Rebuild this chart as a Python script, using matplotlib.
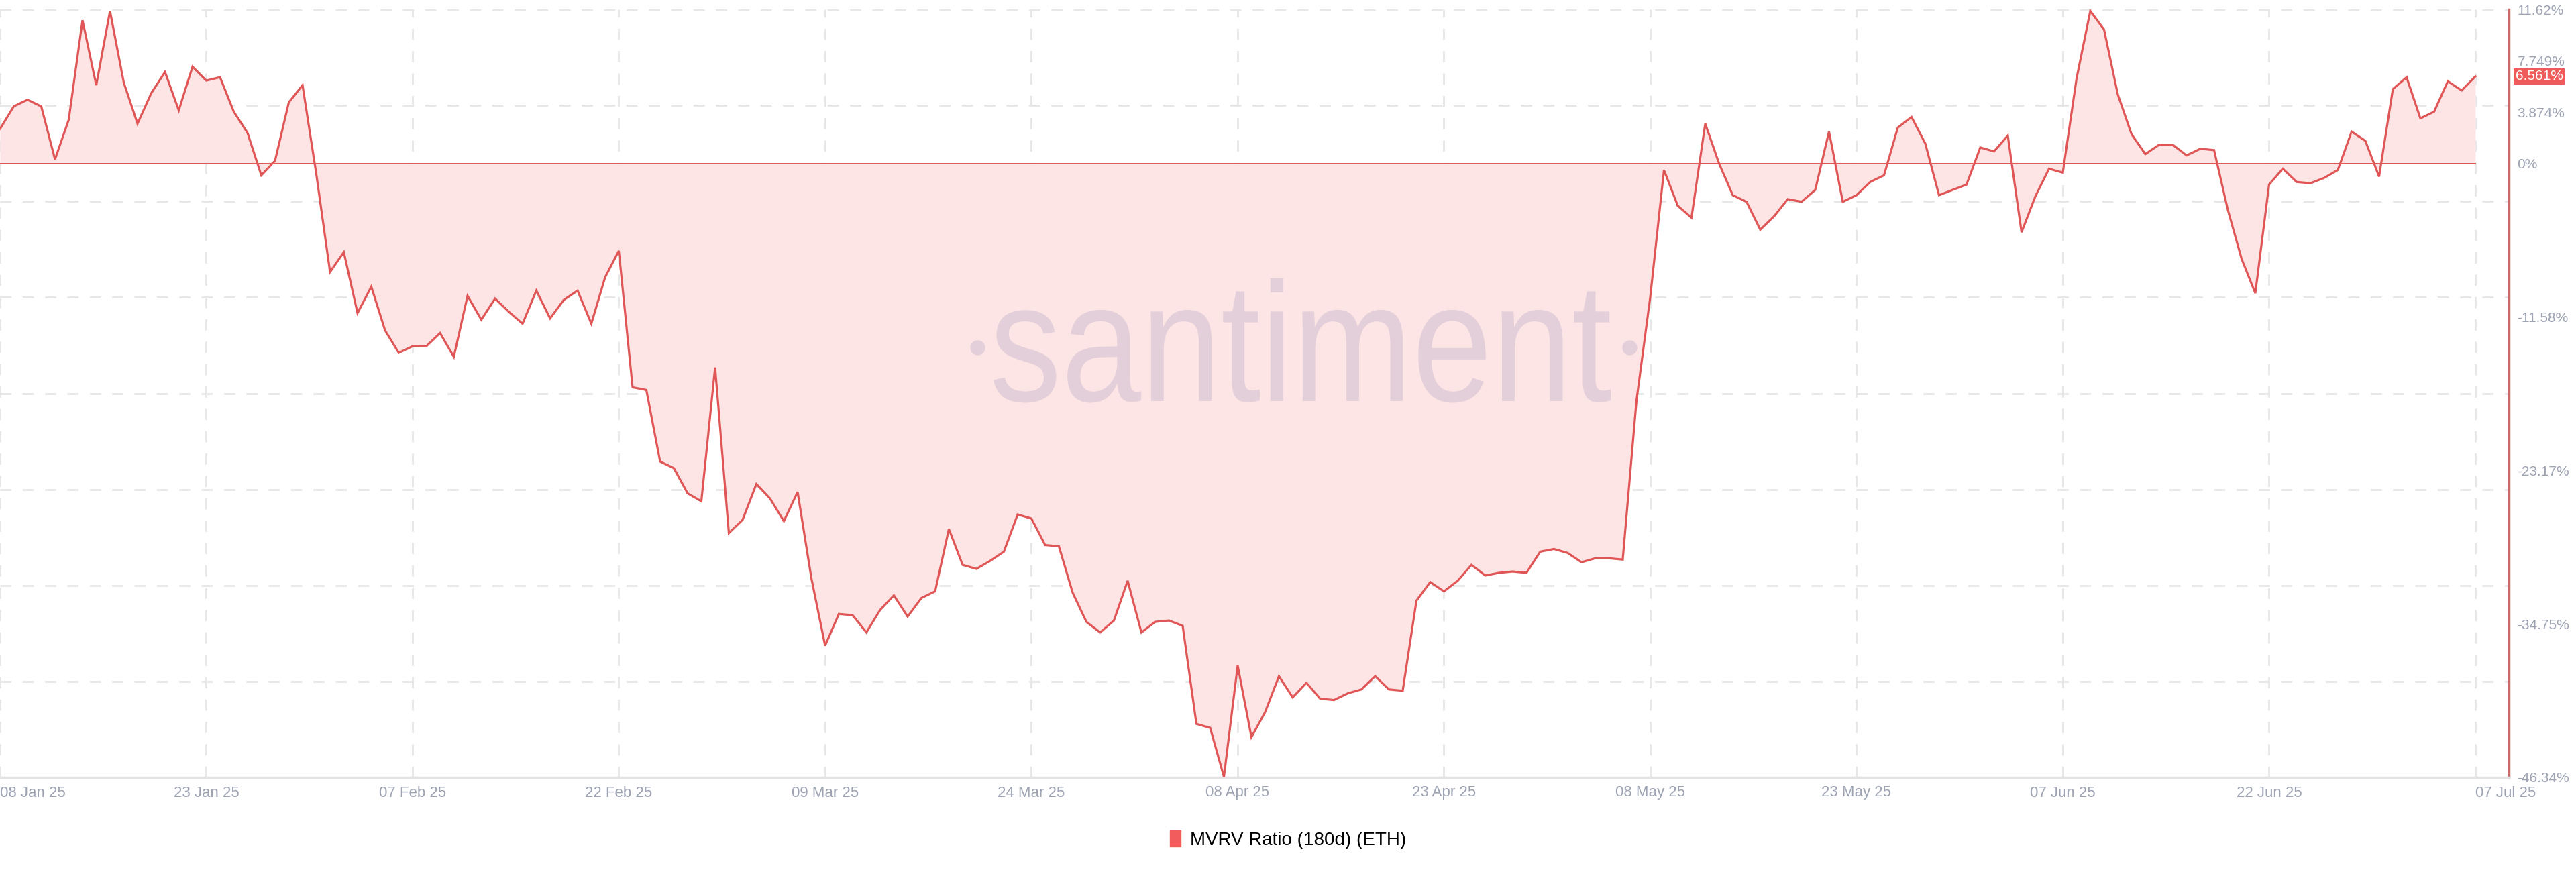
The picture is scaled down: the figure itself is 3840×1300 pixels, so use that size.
import pandas as pd
import matplotlib.pyplot as plt
from matplotlib.patches import Patch, PathPatch
from matplotlib.textpath import TextPath
from matplotlib.font_manager import FontProperties
from matplotlib.transforms import Affine2D

# MVRV Ratio (180d) for ETH, daily values in percent, 08 Jan 25 .. 07 Jul 25
start_date = '2025-01-08'
mvrv = [
    2.6, 4.3, 4.8, 4.3, 0.3, 3.3, 10.8, 5.9, 11.5, 6.1,
    3.0, 5.3, 6.9, 4.0, 7.3, 6.25, 6.5, 3.9, 2.3, -0.9,
    0.2, 4.6, 5.9, -0.8, -8.2, -6.7, -11.3, -9.3, -12.6, -14.3,
    -13.8, -13.8, -12.8, -14.6, -10.0, -11.8, -10.2, -11.2, -12.1, -9.6,
    -11.7, -10.3, -9.6, -12.1, -8.6, -6.6, -16.9, -17.1, -22.5, -23.0,
    -24.9, -25.5, -15.4, -27.9, -26.9, -24.2, -25.3, -27.0, -24.8, -31.3,
    -36.4, -34.0, -34.1, -35.4, -33.7, -32.6, -34.2, -32.8, -32.3, -27.6,
    -30.3, -30.6, -30.0, -29.3, -26.5, -26.8, -28.8, -28.9, -32.4, -34.6,
    -35.4, -34.5, -31.5, -35.4, -34.6, -34.5, -34.9, -42.3, -42.6, -46.3,
    -37.9, -43.3, -41.4, -38.7, -40.3, -39.2, -40.4, -40.5, -40.0, -39.7,
    -38.7, -39.7, -39.8, -33.0, -31.6, -32.3, -31.5, -30.3, -31.1, -30.9,
    -30.8, -30.9, -29.3, -29.1, -29.4, -30.1, -29.8, -29.8, -29.9, -17.9,
    -10.1, -0.5, -3.2, -4.1, 3.0, 0.0, -2.4, -2.9, -5.0, -4.0,
    -2.7, -2.9, -2.0, 2.4, -2.9, -2.4, -1.4, -0.9, 2.7, 3.5,
    1.5, -2.4, -2.0, -1.6, 1.2, 0.9, 2.1, -5.2, -2.5, -0.4,
    -0.7, 6.4, 11.5, 10.1, 5.2, 2.2, 0.7, 1.4, 1.4, 0.6,
    1.1, 1.0, -3.5, -7.2, -9.8, -1.6, -0.4, -1.4, -1.5, -1.1,
    -0.5, 2.4, 1.7, -1.0, 5.6, 6.5, 3.4, 3.9, 6.2, 5.5,
    6.561,
]

y_ticks = [11.62, 7.749, 3.874, 0, -11.58, -23.17, -34.75, -46.34]
y_tick_labels = ['11.62%', '7.749%', '3.874%', '0%', '-11.58%', '-23.17%', '-34.75%', '-46.34%']
x_tick_labels = ['08 Jan 25', '23 Jan 25', '07 Feb 25', '22 Feb 25', '09 Mar 25', '24 Mar 25',
                 '08 Apr 25', '23 Apr 25', '08 May 25', '23 May 25', '07 Jun 25', '22 Jun 25',
                 '07 Jul 25']

dates = pd.date_range(start_date, periods=len(mvrv), freq='D')
df = pd.DataFrame({'Date': dates, 'MVRV': mvrv})

line_color = '#e05656'
fill_color = '#fde4e5'
grid_color = '#e6e6e6'
label_color = '#9ea3b3'

W, H = 3840, 1300
fig = plt.figure(figsize=(W / 100, H / 100), dpi=100)
ax = fig.add_axes([0, 1 - 1159 / H, 3740 / W, (1159 - 14) / H])

y_min, y_max = -46.34, 11.62
ax.set_ylim(y_min, y_max)
ax.set_xlim(df['Date'].iloc[0], df['Date'].iloc[0] + pd.Timedelta(days=182.44))

# Dashed horizontal grid (evenly spaced, independent of the labels)
step = (y_max - y_min) / 8
for k in range(8):
    ax.axhline(y_max - k * step, color=grid_color, lw=2, ls=(0, (6, 6)), zorder=0)

# Dashed vertical grid at the date ticks
tick_dates = pd.date_range(start_date, periods=len(x_tick_labels), freq='15D')
for d in tick_dates:
    ax.axvline(d, color=grid_color, lw=2, ls=(0, (6, 6)), zorder=0)

# Watermark: condensed "santiment" drawn as a path, fitted to a box in axes fractions
wm_color = '#e3cfd9'
tp = TextPath((0, 0), 'santiment', size=100, prop=FontProperties(family='Liberation Sans'))
ext = tp.get_extents()
wm_left, wm_right, wm_base, wm_top = 0.396, 0.642, 0.49, 0.65
sx = (wm_right - wm_left) / ext.width
sy = (wm_top - wm_base) / ext.y1
wm_tr = Affine2D().translate(-ext.x0, 0).scale(sx, sy).translate(wm_left, wm_base) + ax.transAxes
ax.add_patch(PathPatch(tp, transform=wm_tr, fc=wm_color, ec='none', zorder=1))
ax.plot([0.3896, 0.6495], [0.56, 0.56], transform=ax.transAxes, ls='none', marker='o',
        ms=15, color=wm_color, zorder=1)

ax.fill_between(df['Date'], df['MVRV'], 0, color=fill_color, lw=0, zorder=0.5)
ax.axhline(0, color=line_color, lw=1.4, xmax=(180 / 182.44), zorder=4)
ax.plot(df['Date'], df['MVRV'], color=line_color, lw=2.3, zorder=5, solid_joinstyle='miter')

# Axes styling
for side in ['left', 'top']:
    ax.spines[side].set_visible(False)
ax.spines['right'].set_color('#c96a6a')
ax.spines['right'].set_linewidth(2.5)
ax.spines['bottom'].set_color('#e3e3e6')
ax.spines['bottom'].set_linewidth(2.5)

ax.yaxis.tick_right()
ax.set_yticks(y_ticks)
ax.set_yticklabels(y_tick_labels)
ax.tick_params(axis='y', length=0, pad=9, labelsize=15, labelcolor=label_color)
for t in ax.get_yticklabels():
    t.set_family('Liberation Sans')

ax.set_xticks(tick_dates)
ax.set_xticklabels(x_tick_labels)
ax.tick_params(axis='x', length=0, pad=9, labelsize=16, labelcolor=label_color)
xlabels = ax.get_xticklabels()
for t in xlabels:
    t.set_family(['Liberation Sans Narrow', 'Liberation Sans'])
xlabels[0].set_ha('left')
xlabels[-1].set_ha('left')

# Last value badge
ax.annotate('6.561%', xy=(1, 6.561), xycoords=('axes fraction', 'data'),
            xytext=(7, 0), textcoords='offset points', ha='left', va='center',
            fontsize=15, color='white', family='Liberation Sans',
            bbox=dict(boxstyle='square,pad=0.12', fc='#ef5b5b', ec='none'),
            annotation_clip=False)

fig.legend(handles=[Patch(color='#f25c5c', label='MVRV Ratio (180d) (ETH)')],
           loc='center', bbox_to_anchor=(0.5, 1 - 1252 / H), frameon=False,
           handlelength=0.6, handleheight=0.9, handletextpad=0.5,
           prop={'family': ['Liberation Sans Narrow', 'Liberation Sans'], 'size': 20})

fig.savefig('out.png', dpi=100, facecolor='white')
